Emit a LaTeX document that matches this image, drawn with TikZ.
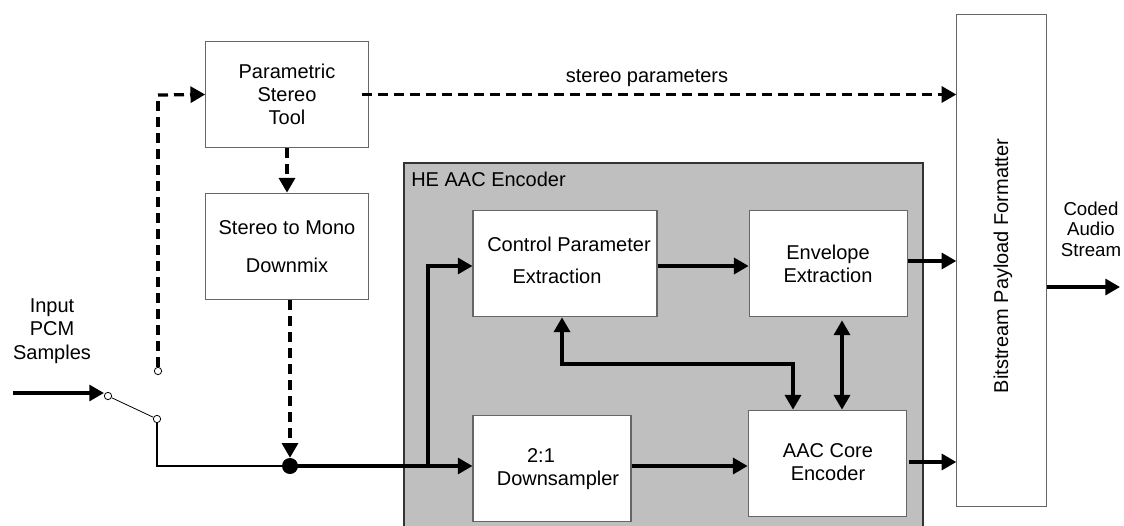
\documentclass[tikz,border=0pt]{standalone}
\usepackage{fontspec}
\setmainfont{Liberation Sans}
\usetikzlibrary{arrows.meta,calc}
\begin{document}
\begin{tikzpicture}[x=0.75pt,y=-0.75pt,
  every node/.style={font=\fontsize{15pt}{17.5pt}\selectfont, inner sep=0pt},
  blk/.style={draw=black!60, line width=0.8pt, fill=white, inner sep=0pt},
  flow/.style={line width=2.4pt, -{Triangle[length=11pt,width=12pt]}},
  flowline/.style={line width=2.4pt},
  bidir/.style={line width=2.4pt, {Triangle[length=11pt,width=12pt]}-{Triangle[length=11pt,width=12pt]}},
  dflow/.style={line width=2.4pt, dash pattern=on 7.5pt off 4.5pt, -{Triangle[length=11pt,width=12pt]}},
  dline/.style={line width=2.4pt, dash pattern=on 7.5pt off 4.5pt},
  wire/.style={line width=1.1pt},
  port/.style={circle, draw=black, line width=0.6pt, fill=white, minimum size=5.5pt, inner sep=0pt},
  lbl/.style={align=center}
]
\useasboundingbox (0,0) rectangle (1124,525);
% HE AAC Encoder background
\path[fill=black!25, draw=black!80, line width=0.8pt] (404,163) rectangle (923,530);
\node[anchor=north west] (heaac) at (411,172) {HE AAC Encoder};

% blocks
\node[blk, minimum width=122pt, minimum height=80pt] (ps) at (287,94.5) {};
\node[lbl] (pst) at (ps) {Parametric\\Stereo\\Tool};
\node[blk, minimum width=122pt, minimum height=80pt] (dm) at (287,246.5) {};
\node at (287,228) (dmt1) {Stereo to Mono};
\node at (287,265) (dmt2) {Downmix};

\node[blk, minimum width=138pt, minimum height=80pt] (cpe) at (565,263.5) {};
\node at (569,244) (cpet1) {Control Parameter};
\node at (557,276) (cpet2) {Extraction};

\node[blk, minimum width=119pt, minimum height=80pt] (env) at (828.5,263.5) {};
\node[lbl] (envt) at (828,264) {Envelope\\Extraction};

\node[blk, minimum width=118.5pt, minimum height=80pt] (ds) at (552,468.5) {};
\node at (541,456) (dst1) {2:1};
\node at (558,480) (dst2) {Downsampler};

\node[blk, minimum width=119pt, minimum height=80pt] (aac) at (827.5,463.5) {};
\node[lbl] (aact) at (828,462) {AAC Core\\Encoder};

\node[blk, minimum width=67pt, minimum height=369.5pt] (bs) at (1001.5,260.5) {};
\node[rotate=90] (bst) at (1003,266) {Bitstream Payload Formatter};

% text labels
\node[lbl] (inlbl) at (52,331) {Input\\PCM\\Samples};
\node[lbl, font=\fontsize{14pt}{15.5pt}\selectfont] (outlbl) at (1091,229) {Coded\\Audio\\Stream};
\node (splbl) at (647,78) {stereo parameters};

% switch
\coordinate (inA) at (13,393);
\node[port] (p1) at (108,396) {};
\node[port] (p2) at (157,419) {};
\node[port] (p3) at (158,371) {};
\draw[flow] (inA) -- (p1.west |- inA);
\draw[line width=0.6pt] (p1) -- (p2);
\coordinate (c1) at (157,466);
\node[circle, fill=black, minimum size=12pt] (dot) at (290,466) {};
\draw[wire] (p2.south) -- (c1) -- (dot.west);

% dashed paths
\coordinate (c2) at (158,95);
\draw[dline] (p3.north) -- (c2);
\draw[dflow] (c2) -- (ps.west);
\draw[dflow] (ps.south) -- (dm.north);
\draw[dflow] (dm.south -| dot) -- (dot.north);
\draw[dflow] ($(ps.east)+(-7,0)$) -- (ps.east -| bs.west);

% main flow
\coordinate (br) at (428,466);
\draw[flowline] (dot.center) -- (br);
\draw[flow] (br) -- (ds.west |- br);
\draw[flow] (br) |- (cpe.west |- 0,266);
\draw[flow] (cpe.east |- 0,266) -- (env.west |- 0,266);
\draw[flow] (ds.east |- 0,466) -- (aac.west |- 0,466);

% feedback
\coordinate (fb1) at (562,364);
\coordinate (fb2) at (793,364);
\draw[bidir] (cpe.south -| fb1) -- (fb1) -- (fb2) -- (aac.north -| fb2);
\draw[bidir] ($(env.south -| 842,0)+(0,3)$) -- ($(aac.north -| 842,0)$);

% outputs to bitstream
\draw[flow] (env.east |- 0,261) -- (bs.west |- 0,261);
\draw[flow] ($(aac.east |- 0,462)+(2,0)$) -- (bs.west |- 0,462);
\coordinate (outB) at (1120,287);
\draw[flow] (bs.east |- outB) -- (outB);
\end{tikzpicture}
\end{document}
